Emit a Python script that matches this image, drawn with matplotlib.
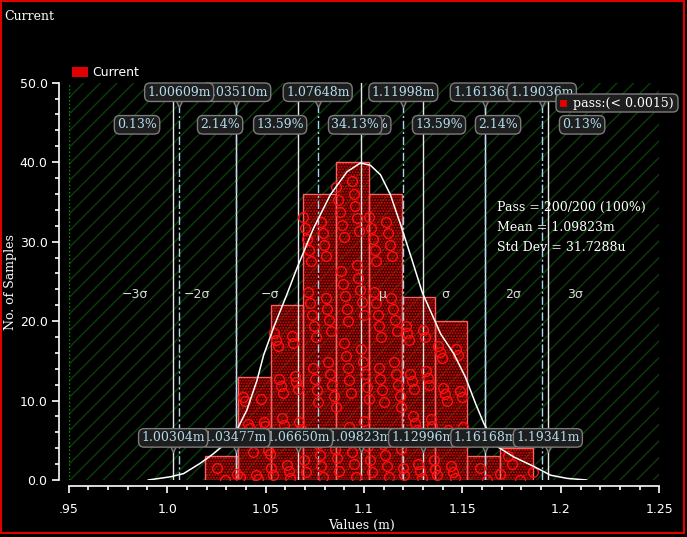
import matplotlib
matplotlib.use("Agg")
import matplotlib.pyplot as plt
import numpy as np
from matplotlib.patches import Rectangle, FancyBboxPatch
from matplotlib.transforms import IdentityTransform
from matplotlib.ticker import MultipleLocator

# histogram of the 200 samples (values in m)
counts = [3, 13, 22, 36, 40, 36, 23, 20, 3, 4]
bin_start = 1.0192
bin_width = 0.01667

# mean +/- k sigma lines (solid) and their labels
sigma_vals = [1.00304, 1.03477, 1.06650, 1.09823, 1.12996, 1.16168, 1.19341]
sigma_k = [-3, -2, -1, 0, 1, 2, 3]
sigma_names = ["\u22123\u03c3", "\u22122\u03c3", "\u2212\u03c3", "\u03bc", "\u03c3", "2\u03c3", "3\u03c3"]
sigma_name_x = [0.9837, 1.0150, 1.0523, 1.1098, 1.1415, 1.1757, 1.2072]

# quantile lines (dash-dot)
quant_vals = [1.00609, 1.03510, 1.07648, 1.11998, 1.16136, 1.19036]
quant_k = [3, 2, 1, 1, 2, 3]

pct_text = ["0.13%", "2.14%", "13.59%", "34.13%", "34.13%", "13.59%", "2.14%", "0.13%"]
pct_x = [0.9847, 1.0269, 1.0574, 1.0955, 1.1001, 1.1381, 1.1681, 1.2108]
pct_z = [4, 3, 2, 1, 0, 2, 3, 4]

# fitted curve
curve_x = [0.9904, 1.0016, 1.0083, 1.0168, 1.0235, 1.0336, 1.0405, 1.0456, 1.0490,
           1.0541, 1.0609, 1.0660, 1.0744, 1.0829, 1.0914, 1.0982, 1.1033, 1.1084,
           1.1134, 1.1185, 1.1240, 1.1296, 1.1389, 1.1456, 1.1516, 1.1567, 1.1609,
           1.1677, 1.1761, 1.1863, 1.1948, 1.2033, 1.2130]
curve_y = [0.0, 0.4, 0.8, 2.1, 3.3, 5.4, 8.8, 12.5, 15.7,
           19.2, 23.4, 26.7, 31.7, 35.9, 38.8, 39.9, 39.6, 38.4,
           35.9, 32.2, 28.0, 23.6, 18.4, 15.9, 12.9, 9.6, 7.1,
           4.2, 2.9, 1.7, 0.6, 0.2, 0.0]

stats_lines = ["Pass = 200/200 (100%)", "Mean = 1.09823m", "Std Dev = 31.7288u"]

W, H = 687, 537
SERIF = "DejaVu Serif"
LABEL_BLUE = "#b4dcec"

fig = plt.figure(figsize=(W / 100, H / 100), dpi=100, facecolor="black")
ax = fig.add_axes([68.7 / W, 57 / H, 590.6 / W, 397.3 / H], facecolor="black")
ax.set_xlim(0.95, 1.25)
ax.set_ylim(0, 50)

# hatched plot background
ax.add_patch(Rectangle((0, 0), 1, 1, transform=ax.transAxes, facecolor="black",
                       hatch="//", edgecolor="#0b3d0b", lw=0, zorder=0))
ax.axvline(0.95, color="#00a000", ls=":", lw=1, zorder=1)

# histogram bars
edges = bin_start + bin_width * np.arange(len(counts))
ax.bar(edges, counts, width=bin_width, align="edge", facecolor=(0.7, 0, 0, 0.25),
       hatch="......", edgecolor="#ff0000", lw=0, zorder=2)
ax.bar(edges, counts, width=bin_width, align="edge", fill=False,
       edgecolor="#ff5e5e", lw=1, zorder=2.5)

# sample circles spread inside each bin, one per counted sample
cx, cy = [], []
for left, n in zip(edges, counts):
    for j in range(n):
        cx.append(left + bin_width * ((j * 0.618034 + 0.37) % 1.0))
        cy.append(n * ((j * 0.7548777 + 0.5) % 1.0))
ax.plot(cx, cy, "o", mfc="none", mec="#ff1010", ms=7, mew=1, zorder=4)

# sigma and quantile lines
for v in sigma_vals:
    ax.axvline(v, color="#e8e8e8", lw=1, zorder=3)
for v in quant_vals:
    ax.axvline(v, color="#a8d8ec", lw=1, ls=(0, (6, 2, 1.5, 2)), zorder=3)

ax.plot(curve_x, curve_y, color="white", lw=1.1, zorder=5)

for name, x in zip(sigma_names, sigma_name_x):
    ax.text(x, 23.3, name, ha="center", va="center", fontsize=9,
            color="#d8d8d8", zorder=6)


def callout(x, y, s, z, pointer=True):
    ax.text(x, y, s, ha="center", va="center", family=SERIF, fontsize=9,
            color=LABEL_BLUE, zorder=z,
            bbox=dict(boxstyle="round,pad=0.22,rounding_size=0.45",
                      fc="#1e1e1e", ec="#7c7c7c", lw=1))
    if pointer:
        ax.plot([x], [y - 10.5 / 7.946], marker="v", ms=6, mfc="#1e1e1e",
                mec="#7c7c7c", mew=1, zorder=z - 0.5, clip_on=False)


for v, k in zip(quant_vals, quant_k):
    callout(v, 48.8, "%.5fm" % v, 20 + k)
for v, k in zip(sigma_vals, sigma_k):
    callout(v, 5.3, "%.5fm" % v, 20 + abs(k))
for s, x, z in zip(pct_text, pct_x, pct_z):
    callout(x, 44.7, s, 20 + z, pointer=False)

for i, s in enumerate(stats_lines):
    ax.text(1.1675, 34.3 - 2.55 * i, s, ha="left", va="center", family=SERIF,
            fontsize=9, color="white", zorder=30)

# axes styling
for side in ["top", "right"]:
    ax.spines[side].set_visible(False)
ax.spines["left"].set_position(("outward", 7.2))
ax.spines["bottom"].set_position(("outward", 4.3))
ax.spines["left"].set_bounds(0, 50)
ax.spines["bottom"].set_bounds(0.95, 1.25)
for side in ["left", "bottom"]:
    ax.spines[side].set_color("white")
    ax.spines[side].set_linewidth(1.2)

ax.set_xticks([0.95, 1.0, 1.05, 1.1, 1.15, 1.2, 1.25],
              labels=[".95", "1.0", "1.05", "1.1", "1.15", "1.2", "1.25"])
ax.set_yticks([0, 10, 20, 30, 40, 50],
              labels=["0.0", "10.0", "20.0", "30.0", "40.0", "50.0"])
ax.xaxis.set_minor_locator(MultipleLocator(0.01))
ax.yaxis.set_minor_locator(MultipleLocator(2))
ax.tick_params(which="both", colors="white", labelsize=9, direction="out")
ax.tick_params(which="major", length=5, width=1.2)
ax.tick_params(which="minor", length=3, width=1.2)
ax.tick_params(axis="x", pad=7)
ax.tick_params(axis="y", pad=3)

# figure-level text
ident = IdentityTransform()
fig.text(4, H - 16, "Current", transform=ident, family=SERIF, fontsize=9,
         color="white", ha="left", va="center")
fig.text(11, H - 282, "No. of Samples", transform=ident, family=SERIF,
         fontsize=9, color="white", rotation=90, ha="center", va="center")
fig.text(362, H - 525, "Values (m)", transform=ident, family=SERIF,
         fontsize=9, color="white", ha="center", va="center")

# legends
fig.patches.append(Rectangle((72, H - 77), 16, 10, transform=ident,
                             facecolor="#e00000", lw=0))
fig.text(92, H - 72, "Current", transform=ident, fontsize=9, color="white",
         ha="left", va="center")
fig.patches.append(FancyBboxPatch((556, H - 112), 122, 18, transform=ident,
                                  boxstyle="round,pad=0,rounding_size=5",
                                  fc="#1e1e1e", ec="#7c7c7c", lw=1, zorder=40))
fig.patches.append(Rectangle((560, H - 107), 7, 7, transform=ident,
                             facecolor="#e00000", lw=0, zorder=41))
fig.text(573, H - 103, "pass:(< 0.0015)", transform=ident, family=SERIF,
         fontsize=9, color="white", ha="left", va="center", zorder=42)

# outer frame
fig.patches.append(Rectangle((1, H - 533), 682.5, 532, transform=ident,
                             fill=False, edgecolor="#e00000", lw=1.5))

plt.savefig("out.png", dpi=100, facecolor="black")
plt.close()
